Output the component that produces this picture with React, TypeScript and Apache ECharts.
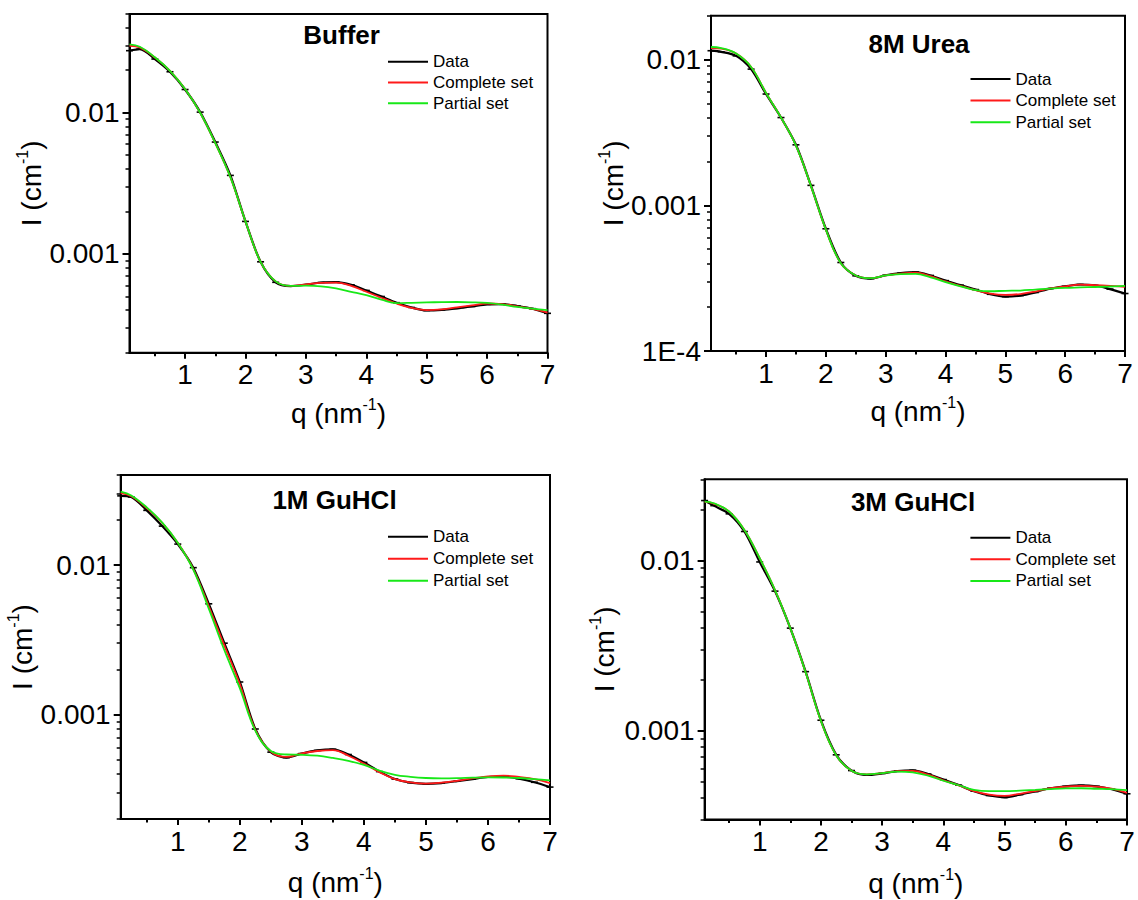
import React, { useEffect, useRef } from "react";
import * as echarts from "echarts";

// ---------- data ----------
const qGrid = [0.08, 0.25, 0.5, 0.75, 1, 1.25, 1.5, 1.75, 2, 2.25, 2.5, 2.75, 3, 3.25, 3.5, 3.75, 4, 4.25, 4.5, 4.75, 5, 5.25, 5.5, 5.75, 6, 6.25, 6.5, 6.75, 7];
const qGrid3M = [0.1, 0.25, 0.5, 0.75, 1, 1.25, 1.5, 1.75, 2, 2.25, 2.5, 2.75, 3, 3.25, 3.5, 3.75, 4, 4.25, 4.5, 4.75, 5, 5.25, 5.5, 5.75, 6, 6.25, 6.5, 6.75, 7];

const bufferData = [0.0275, 0.0282, 0.024, 0.0195, 0.0146, 0.0101, 0.0062, 0.0036, 0.0017, 0.00088, 0.00063, 0.000592, 0.000606, 0.000628, 0.000632, 0.000605, 0.000552, 0.0005, 0.000452, 0.000418, 0.000398, 0.000402, 0.000412, 0.000425, 0.00044, 0.000442, 0.000428, 0.00041, 0.00038];
const bufferComplete = [0.0298, 0.029, 0.0246, 0.0198, 0.0147, 0.01, 0.0061, 0.0035, 0.0017, 0.00088, 0.00064, 0.000594, 0.000608, 0.000625, 0.000627, 0.000595, 0.00054, 0.00049, 0.000446, 0.000415, 0.0004, 0.000405, 0.000418, 0.000432, 0.000446, 0.000442, 0.000426, 0.000408, 0.000385];
const bufferPartial = [0.0305, 0.0293, 0.0247, 0.0198, 0.0147, 0.01, 0.0061, 0.0035, 0.0017, 0.00088, 0.00064, 0.000594, 0.000596, 0.00059, 0.00057, 0.00054, 0.000511, 0.000475, 0.000449, 0.000451, 0.000454, 0.000456, 0.000457, 0.000455, 0.00045, 0.000438, 0.000422, 0.00041, 0.0004];

const ureaData = [0.0115, 0.0113, 0.0106, 0.0086, 0.0058, 0.004, 0.0026, 0.00137, 0.00069, 0.000405, 0.000328, 0.000314, 0.000331, 0.000342, 0.000348, 0.00033, 0.000304, 0.000283, 0.000264, 0.000245, 0.000236, 0.00024, 0.000252, 0.000268, 0.000278, 0.000286, 0.000282, 0.000266, 0.000248];
const ureaComplete = [0.012, 0.0119, 0.011, 0.0089, 0.0059, 0.004, 0.00257, 0.00136, 0.00068, 0.0004, 0.00033, 0.000316, 0.00033, 0.00034, 0.000345, 0.000326, 0.0003, 0.00028, 0.000262, 0.000248, 0.000243, 0.000246, 0.000256, 0.000269, 0.000278, 0.000285, 0.000283, 0.00028, 0.000276];
const ureaPartial = [0.0122, 0.012, 0.011, 0.0089, 0.0059, 0.004, 0.00257, 0.00136, 0.00068, 0.0004, 0.00033, 0.000316, 0.00033, 0.000337, 0.000338, 0.00032, 0.000297, 0.000278, 0.000262, 0.000257, 0.000259, 0.00026, 0.000264, 0.000268, 0.000271, 0.000273, 0.000275, 0.000277, 0.00028];

const gu1Data = [0.029, 0.0285, 0.0232, 0.0182, 0.0138, 0.0096, 0.0055, 0.003, 0.00165, 0.0008, 0.00056, 0.000515, 0.000548, 0.000575, 0.000585, 0.00054, 0.000478, 0.000415, 0.00037, 0.00035, 0.000344, 0.000348, 0.000358, 0.00037, 0.000382, 0.000384, 0.000372, 0.000352, 0.000327];
const gu1Complete = [0.0303, 0.0288, 0.024, 0.0191, 0.0141, 0.0094, 0.0053, 0.0029, 0.0016, 0.00079, 0.000565, 0.00052, 0.00055, 0.00057, 0.000578, 0.00053, 0.00047, 0.000412, 0.00037, 0.000352, 0.000345, 0.00035, 0.00036, 0.000374, 0.000385, 0.00039, 0.000382, 0.00037, 0.000348];
const gu1Partial = [0.031, 0.0292, 0.0243, 0.0192, 0.0141, 0.0093, 0.0051, 0.0027, 0.0015, 0.00078, 0.00057, 0.00054, 0.000538, 0.00053, 0.000512, 0.00049, 0.00046, 0.000422, 0.000395, 0.000383, 0.000376, 0.000374, 0.000375, 0.000378, 0.00038, 0.000379, 0.000376, 0.00037, 0.000362];

const gu3Data = [0.0225, 0.021, 0.0188, 0.0148, 0.0098, 0.0066, 0.004, 0.00222, 0.00115, 0.00072, 0.000582, 0.000548, 0.00056, 0.000578, 0.000584, 0.000555, 0.000515, 0.000478, 0.00044, 0.000415, 0.000405, 0.00042, 0.000438, 0.000458, 0.00047, 0.000476, 0.00047, 0.000452, 0.000425];
const gu3Complete = [0.0221, 0.0216, 0.0194, 0.0151, 0.0103, 0.0067, 0.004, 0.0022, 0.00114, 0.000715, 0.00058, 0.000552, 0.000562, 0.000577, 0.00058, 0.00055, 0.00051, 0.000476, 0.00044, 0.00042, 0.000413, 0.000425, 0.00044, 0.000458, 0.000468, 0.000473, 0.000468, 0.000455, 0.00043];
const gu3Partial = [0.0222, 0.0217, 0.0194, 0.0151, 0.0103, 0.0067, 0.004, 0.0022, 0.00114, 0.000715, 0.00058, 0.000552, 0.000562, 0.000574, 0.000568, 0.000543, 0.000507, 0.000477, 0.000448, 0.00044, 0.00044, 0.000443, 0.000448, 0.000453, 0.000457, 0.000458, 0.000455, 0.000452, 0.000446];

const panelTitles = ["Buffer", "8M Urea", "1M GuHCl", "3M GuHCl"];
const seriesNames = ["Data", "Complete set", "Partial set"];
const xTickLabels = [1, 2, 3, 4, 5, 6, 7];
const xMinorTicks = [0.5, 1.5, 2.5, 3.5, 4.5, 5.5, 6.5];
const yMajorBuffer = [0.001, 0.01];
const yMajorUrea = [0.0001, 0.001, 0.01];
const yMajorGu1 = [0.001, 0.01];
const yMajorGu3 = [0.001, 0.01];

// ---------- layout / style ----------
const FONT = "Liberation Sans, Arial, Helvetica, sans-serif";
const RED = "#ff1a1a";
const GREEN = "#18e818";

const panels = [
  { q: qGrid, d: bufferData, c: bufferComplete, p: bufferPartial, majors: yMajorBuffer,
    grid: { left: 129.5, top: 14, width: 418, height: 338.7 }, xmin: 0.08, ymin: 0.0002, ymax: 0.05,
    legend: { left: 388, top: 51.7, gap: 0.8 }, title: [341.6, 34.7], yGap: 80, xGap: 44 },
  { q: qGrid, d: ureaData, c: ureaComplete, p: ureaPartial, majors: yMajorUrea,
    grid: { left: 711, top: 15.7, width: 414, height: 335.3 }, xmin: 0.08, ymin: 0.0001, ymax: 0.02,
    legend: { left: 970.5, top: 69, gap: 1.6 }, title: [919, 44], yGap: 78, xGap: 43 },
  { q: qGrid, d: gu1Data, c: gu1Complete, p: gu1Partial, majors: yMajorGu1,
    grid: { left: 120.7, top: 475, width: 429.3, height: 344 }, xmin: 0.08, ymin: 0.0002, ymax: 0.04,
    legend: { left: 388, top: 526.7, gap: 2 }, title: [334.5, 500], yGap: 74, xGap: 46 },
  { q: qGrid3M, d: gu3Data, c: gu3Complete, p: gu3Partial, majors: yMajorGu3,
    grid: { left: 704.6, top: 479.3, width: 422.4, height: 340.2 }, xmin: 0.1, ymin: 0.0003, ymax: 0.03,
    legend: { left: 970.4, top: 527.7, gap: 1.6 }, title: [913, 502], yGap: 83, xGap: 47 },
];

function minorLogTicks(min: number, max: number, majors: number[]) {
  const out: number[] = [];
  for (let n = -6; n <= 0; n++) {
    for (let k = 1; k <= 9; k++) {
      const v = Number((k * Math.pow(10, n)).toPrecision(3));
      if (v >= min - 1e-12 && v <= max + 1e-12 && majors.indexOf(v) < 0) out.push(v);
    }
  }
  return out;
}

const rich = {
  a: { fontSize: 28, fontFamily: FONT, color: "#000", lineHeight: 34 },
  s: { fontSize: 16, fontFamily: FONT, color: "#000", verticalAlign: "top", lineHeight: 18 },
};

function fmtY(v: number) {
  if (v < 0.0005) return "1E-4";
  if (v < 0.005) return "0.001";
  return "0.01";
}

function buildOption() {
  const grid: any[] = [];
  const xAxis: any[] = [];
  const yAxis: any[] = [];
  const series: any[] = [];
  const legend: any[] = [];
  const graphic: any[] = [];

  panels.forEach((pn, i) => {
    grid.push({ ...pn.grid, show: true, borderColor: "#000", borderWidth: 2, backgroundColor: "transparent", containLabel: false });
    const lineStyle = { color: "#000", width: 2 };
    xAxis.push({
      type: "value", gridIndex: i, position: "bottom", min: pn.xmin, max: 7,
      axisLine: { show: true, onZero: false, lineStyle },
      axisTick: { show: true, customValues: xTickLabels, length: 6, lineStyle },
      axisLabel: { customValues: xTickLabels, margin: 8, fontSize: 28, fontFamily: FONT, color: "#000" },
      splitLine: { show: false },
      name: "{a|q (nm}{s|-1}{a|)}", nameLocation: "middle", nameGap: pn.xGap,
      nameTextStyle: { rich },
    });
    xAxis.push({
      type: "value", gridIndex: i, position: "bottom", min: pn.xmin, max: 7,
      axisLine: { show: false },
      axisTick: { show: true, customValues: xMinorTicks, length: 3.5, lineStyle },
      axisLabel: { show: false }, splitLine: { show: false },
    });
    yAxis.push({
      type: "log", logBase: 10, gridIndex: i, position: "left", min: pn.ymin, max: pn.ymax,
      axisLine: { show: true, onZero: false, lineStyle },
      axisTick: { show: true, customValues: pn.majors, length: 7, lineStyle },
      axisLabel: { customValues: pn.majors, formatter: (v: number) => fmtY(v), margin: 10, fontSize: 28, fontFamily: FONT, color: "#000" },
      splitLine: { show: false },
      name: "{a|I (cm}{s|-1}{a|)}", nameLocation: "middle", nameGap: pn.yGap, nameRotate: 90,
      nameTextStyle: { rich },
    });
    yAxis.push({
      type: "log", logBase: 10, gridIndex: i, position: "left", min: pn.ymin, max: pn.ymax,
      axisLine: { show: false },
      axisTick: { show: true, customValues: minorLogTicks(pn.ymin, pn.ymax, pn.majors), length: 4, lineStyle: { color: "#000", width: 1.5 } },
      axisLabel: { show: false }, splitLine: { show: false },
    });

    const zip = (arr: number[]) => pn.q.map((q, k) => [q, arr[k]]);
    series.push({
      type: "line", name: seriesNames[0], xAxisIndex: 2 * i, yAxisIndex: 2 * i,
      data: zip(pn.d), smooth: 0.3, symbol: "rect", symbolSize: [7, 1.6], showSymbol: true,
      lineStyle: { color: "#000", width: 2.2 }, itemStyle: { color: "#000" }, z: 2,
      emphasis: { disabled: true }, silent: true,
    });
    series.push({
      type: "line", name: seriesNames[1], xAxisIndex: 2 * i, yAxisIndex: 2 * i,
      data: zip(pn.c), smooth: 0.4, showSymbol: false, symbol: "none",
      lineStyle: { color: RED, width: 1.8 }, itemStyle: { color: RED }, z: 3,
      emphasis: { disabled: true }, silent: true,
    });
    series.push({
      type: "line", name: seriesNames[2], xAxisIndex: 2 * i, yAxisIndex: 2 * i,
      data: zip(pn.p), smooth: 0.4, showSymbol: false, symbol: "none",
      lineStyle: { color: GREEN, width: 1.8 }, itemStyle: { color: GREEN }, z: 4,
      emphasis: { disabled: true }, silent: true,
    });

    legend.push({
      show: true, left: pn.legend.left, top: pn.legend.top, orient: "vertical", padding: 0,
      itemGap: pn.legend.gap, itemWidth: 40, itemHeight: 2, icon: "rect", selectedMode: false,
      data: seriesNames,
      textStyle: { fontSize: 17, fontFamily: FONT, color: "#000", lineHeight: 20 },
    });

    graphic.push({
      type: "text", x: pn.title[0], y: pn.title[1],
      style: { text: panelTitles[i], fill: "#000", fontSize: 26, fontWeight: "bold", fontFamily: FONT, align: "center", verticalAlign: "middle" },
    });
  });

  return { animation: false, backgroundColor: "#fff", grid, xAxis, yAxis, series, legend, graphic };
}

export default function App() {
  const ref = useRef<HTMLDivElement>(null);
  useEffect(() => {
    if (!ref.current) return;
    const chart = echarts.init(ref.current, undefined, { renderer: "svg" });
    chart.setOption(buildOption() as any);
    return () => chart.dispose();
  }, []);
  return <div ref={ref} style={{ position: "absolute", left: 0, top: 0, width: 1138, height: 900, background: "#fff" }} />;
}
